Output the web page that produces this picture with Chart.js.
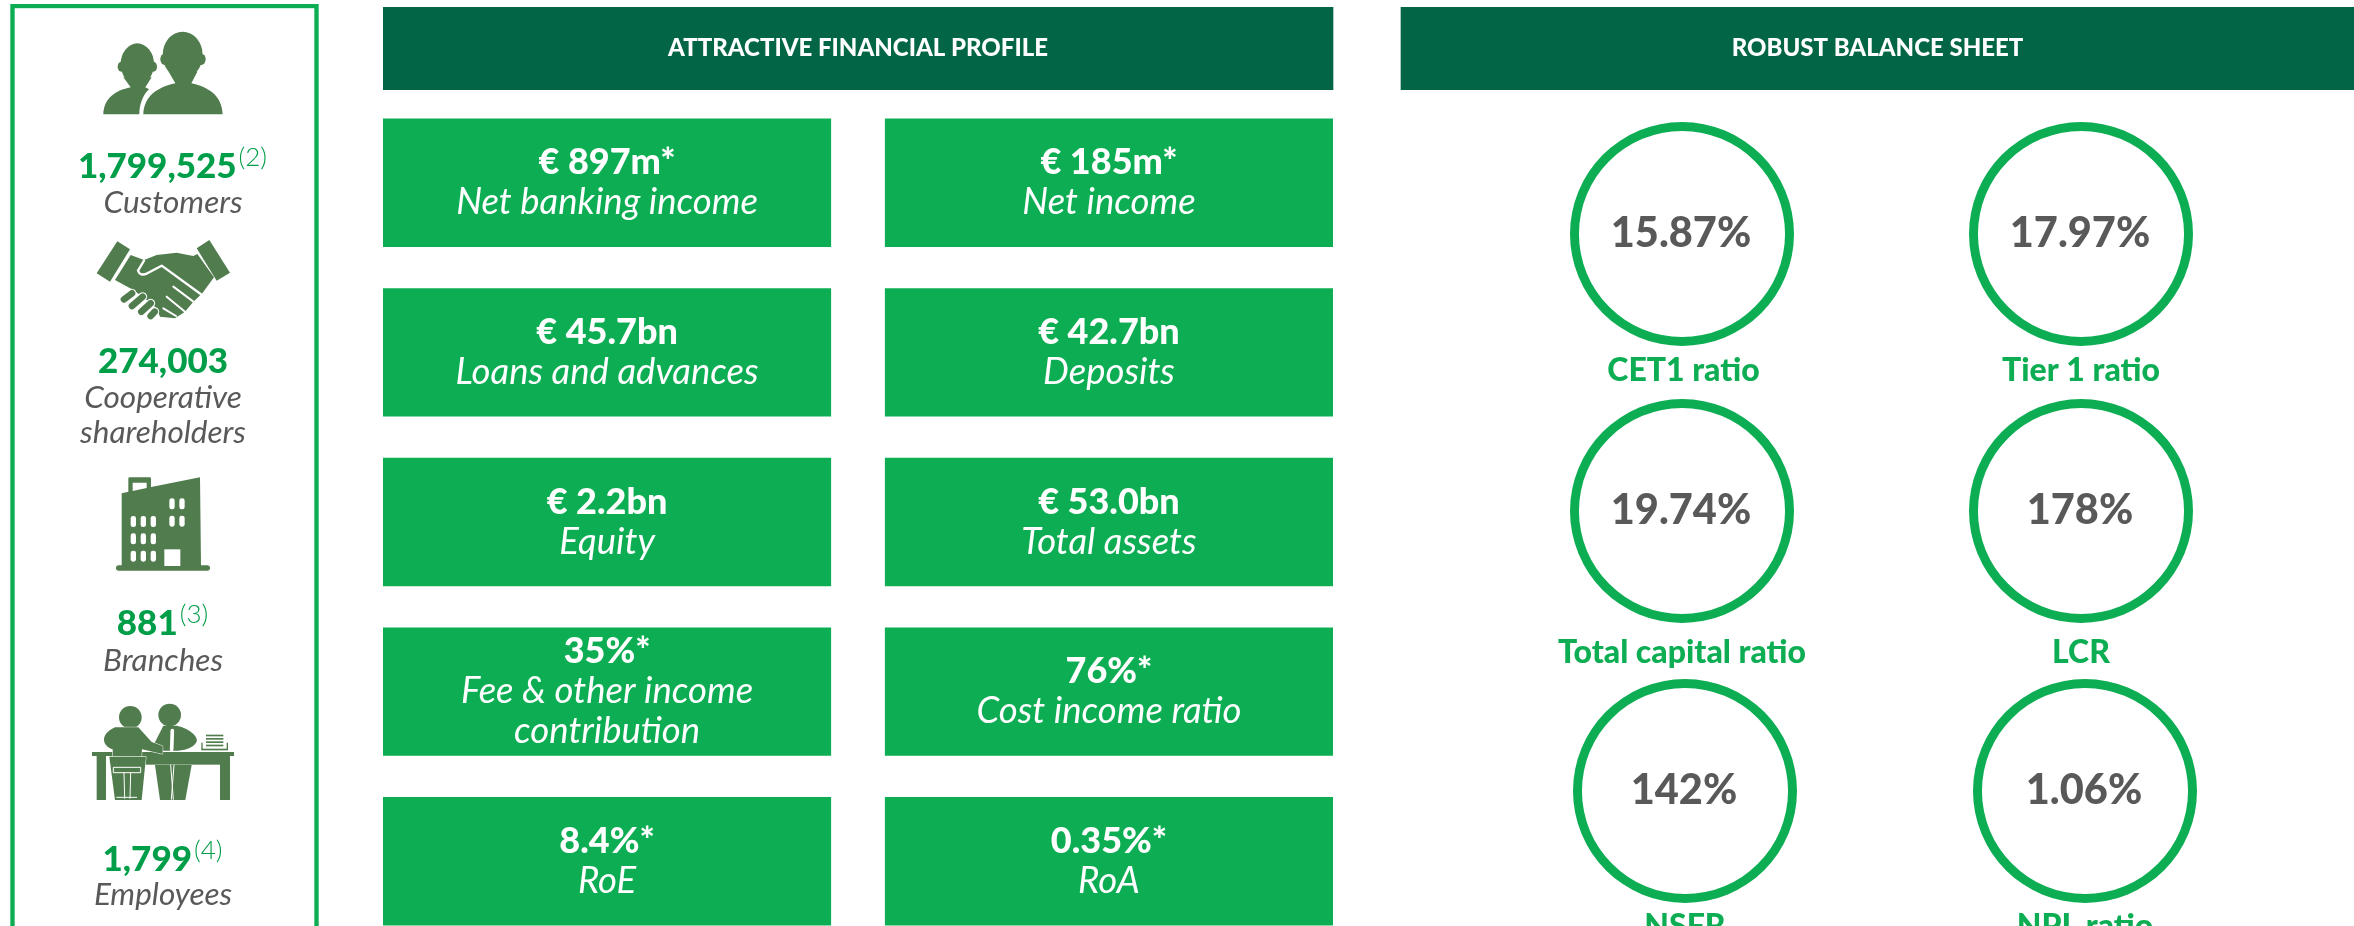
<!DOCTYPE html>
<html><head><meta charset="utf-8">
<script src="https://cdn.jsdelivr.net/npm/chart.js@4"></script>
<style>
html,body{margin:0;padding:0;background:#fff;width:2354px;height:926px;overflow:hidden}
canvas{position:absolute}
</style></head><body>
<script>
// ---------- content ----------
const sectionTitles = ["ATTRACTIVE FINANCIAL PROFILE", "ROBUST BALANCE SHEET"];
const tileRows = ["Earnings", "Balances", "Capital", "Mix", "Returns"];
const tileValuesLeft = ["€ 897m*", "€ 45.7bn", "€ 2.2bn", "35%*", "8.4%*"];
const tileNamesLeft = ["Net banking income", "Loans and advances", "Equity", "Fee & other income\ncontribution", "RoE"];
const tileValuesRight = ["€ 185m*", "€ 42.7bn", "€ 53.0bn", "76%*", "0.35%*"];
const tileNamesRight = ["Net income", "Deposits", "Total assets", "Cost income ratio", "RoA"];
const ratioValues = [15.87, 17.97, 19.74, 178, 142, 1.06];
const ratioTexts = ["15.87%", "17.97%", "19.74%", "178%", "142%", "1.06%"];
const ratioNames = ["CET1 ratio", "Tier 1 ratio", "Total capital ratio", "LCR", "NSFR", "NPL ratio"];
const profileValues = ["1,799,525", "274,003", "881", "1,799"];
const profileNotes = ["(2)", "", "(3)", "(4)"];
const profileNames = ["Customers", "Cooperative\nshareholders", "Branches", "Employees"];

// ---------- styles and layout (page pixels) ----------
const FAM = 'Lato, "Noto Sans", sans-serif';
const TILE = '#0DAE53', HEAD = '#026545', ICON = '#517C4E', NUM = '#009E49', GREY = '#595959', RING = '#0DAE53';
const ringBoxes = [[1681.5,233.5,380],[2080.5,233.5,380],[1681.5,511,663],[2080.5,511,663],[1684.5,790.5,936],[2085,790.5,936]];
const profileBlocks = [
  {cx:172.5,val:178,lab:213},{cx:163,val:373,lab:408},{cx:162.5,val:635,lab:671},{cx:162.5,val:871,lab:905}
];
Chart.defaults.animation = false;
Chart.defaults.responsive = false;
Chart.defaults.plugins.legend.display = false;
Chart.defaults.plugins.tooltip.enabled = false;

function addCanvas(left, top, w, h) {
  const c = document.createElement('canvas');
  c.width = w; c.height = h;
  c.style.left = left + 'px'; c.style.top = top + 'px';
  c.style.width = w + 'px'; c.style.height = h + 'px';
  document.body.appendChild(c);
  return c;
}
function put(ctx, s, x, y, font, color, align) {
  ctx.font = font; ctx.fillStyle = color; ctx.textAlign = align || 'center'; ctx.textBaseline = 'alphabetic';
  ctx.fillText(s, x, y);
}
const hidden = {display:false};

// ---------- section header bars ----------
new Chart(addCanvas(383, 7, 1971, 83), {
  type:'bar',
  data:{labels:['sections'], datasets:sectionTitles.map((t,i)=>({
    label:t, data:[i===0?[0,950]:[1018,1971]], backgroundColor:HEAD, barPercentage:1, categoryPercentage:1, grouped:false
  }))},
  options:{indexAxis:'y', maintainAspectRatio:false,
    scales:{x:{...hidden,min:0,max:1971},y:hidden}},
  plugins:[{id:'heads',afterDatasetsDraw(ch){
    ch.data.datasets.forEach((d,i)=>{
      const el=ch.getDatasetMeta(i).data[0];
      put(ch.ctx,d.label,(el.base+el.x)/2,el.y+7.5,'900 24px '+FAM,'#fff');
    });
  }}]
});

// ---------- KPI tiles ----------
const tileDatasets = [
  {label:'left', data:tileRows.map(()=>[0,1]), values:tileValuesLeft, names:tileNamesLeft},
  {label:'right', data:tileRows.map(()=>[1.12,2.12]), values:tileValuesRight, names:tileNamesRight}
].map(d=>({...d, backgroundColor:TILE, barPercentage:1, categoryPercentage:0.757, grouped:false}));
new Chart(addCanvas(382.5, 97.7, 950.5, 848), {
  type:'bar',
  data:{labels:tileRows, datasets:tileDatasets},
  options:{indexAxis:'y', maintainAspectRatio:false,
    scales:{x:{...hidden,min:0,max:2.12},y:hidden}},
  plugins:[{id:'tileText',afterDatasetsDraw(ch){
    ch.data.datasets.forEach((d,i)=>{
      ch.getDatasetMeta(i).data.forEach((el,r)=>{
        const cx=(el.base+el.x)/2, lines=d.names[r].split('\n');
        let y=el.y-8.5-20*(lines.length-1);
        put(ch.ctx,d.values[r],cx,y,'900 36px '+FAM,'#fff');
        lines.forEach(l=>{y+=40; put(ch.ctx,l,cx,y,'italic 400 36.5px '+FAM,'#fff');});
      });
    });
  }}]
});

// ---------- ratio rings ----------
ratioValues.forEach((v,i)=>{
  const [cx,cy,base]=ringBoxes[i];
  const W=340,H=320,D=224,left=cx-W/2,top=cy-D/2;
  new Chart(addCanvas(left,top,W,H),{
    type:'doughnut',
    data:{labels:[ratioNames[i]],datasets:[{data:[v],backgroundColor:RING,borderWidth:0}]},
    options:{maintainAspectRatio:false,cutout:'92%',
      layout:{padding:{left:(W-D)/2,right:(W-D)/2,top:0,bottom:H-D}}},
    plugins:[{id:'ringText',afterDatasetsDraw(ch){
      const el=ch.getDatasetMeta(0).data[0];
      put(ch.ctx,ratioTexts[i],el.x-1,el.y+13,'900 41.5px '+FAM,GREY);
      put(ch.ctx,ratioNames[i],el.x+(i===0?1.5:0),base-top,'900 32px '+FAM,RING);
    }}]
  });
});

// ---------- pictograms, drawn in a 3x zoomed local space ----------
function dot(c,x,y,rx,ry){c.beginPath();c.ellipse(x,y,rx,ry||rx,0,0,Math.PI*2);c.fill();}
function poly(c,pts){c.beginPath();pts.forEach((p,i)=>i?c.lineTo(p[0],p[1]):c.moveTo(p[0],p[1]));c.closePath();c.fill();}
function rr(c,x,y,w,h,r){c.beginPath();c.roundRect(x,y,w,h,r);c.fill();}
function seg(c,x1,y1,x2,y2,w,col){c.strokeStyle=col;c.lineWidth=w;c.lineCap='round';c.beginPath();c.moveTo(x1,y1);c.lineTo(x2,y2);c.stroke();}
const pictograms=[
 function people(c){
  c.fillStyle=ICON;
  dot(c,412,192,50,62);dot(c,364,200,11,15);dot(c,460,200,11,15);
  c.beginPath();c.moveTo(310,343);c.bezierCurveTo(312,295,345,272,392,262);c.lineTo(370,232);c.lineTo(455,232);c.lineTo(436,262);c.lineTo(447,268);
  c.bezierCurveTo(428,285,418,315,418,343);c.closePath();c.fill();
  dot(c,548,165,60,70);dot(c,494,178,13,17);dot(c,604,178,13,17);
  c.beginPath();c.moveTo(430,343);c.bezierCurveTo(432,290,470,262,526,250);c.lineTo(506,215);c.lineTo(592,215);c.lineTo(574,250);
  c.bezierCurveTo(630,262,666,290,668,343);c.closePath();c.fill();
 },
 function handshake(c){
  c.fillStyle=ICON;
  poly(c,[[352,724],[390,748],[330,845],[290,820]]);
  poly(c,[[628,720],[690,818],[650,842],[590,745]]);
  poly(c,[[392,765],[432,780],[470,765],[530,758],[580,768],[592,762],[642,832],[607,880],[580,905],[555,935],[525,955],[480,950],[470,925],[440,900],[400,870],[345,840]]);
  c.lineJoin='round';
  c.strokeStyle='#fff';c.lineWidth=7;c.lineCap='round';
  c.beginPath();c.moveTo(432,782);c.lineTo(414,812);c.quadraticCurveTo(420,830,442,820);c.lineTo(485,797);c.lineTo(606,885);c.stroke();
  seg(c,520,860,580,905,6,'#fff');seg(c,500,890,555,935,6,'#fff');seg(c,490,925,528,948,6,'#fff');
  [[372,898,396,880],[396,918,428,890],[424,935,452,910],[452,948,464,935]].forEach(f=>{
    seg(c,f[0],f[1],f[2],f[3],27,'#fff');seg(c,f[0],f[1],f[2],f[3],20,ICON);
  });
 },
 function building(c){
  c.fillStyle=ICON;
  rr(c,385,52,68,50,4);
  poly(c,[[365,100],[450,82],[600,52],[603,320],[365,320]]);
  rr(c,348,316,282,16,8);
  c.fillStyle='#fff';
  poly(c,[[398,68],[440,68],[440,84],[398,93]]);
  [168,220,272].forEach(y=>[392,422,452].forEach(x=>rr(c,x,y,16,33,7)));
  [115,167].forEach(y=>[508,538].forEach(x=>rr(c,x,y,16,33,7)));
  c.fillRect(493,268,48,50);
 },
 function meeting(c){
  c.fillStyle=ICON;
  dot(c,391,772,34);dot(c,509,765,34);
  c.beginPath();c.moveTo(490,797);c.lineTo(530,797);c.bezierCurveTo(570,805,595,830,590,845);c.bezierCurveTo(580,865,550,872,525,872);c.lineTo(452,872);c.closePath();c.fill();
  poly(c,[[465,915],[575,915],[556,1020],[480,1020]]);
  c.fillRect(276,876,426,12);c.fillRect(430,888,260,26);c.fillRect(290,888,28,132);c.fillRect(660,888,30,132);
  c.strokeStyle='#fff';c.lineWidth=3;
  c.beginPath();c.moveTo(345,802);c.lineTo(415,802);c.lineTo(455,846);c.lineTo(488,858);c.lineTo(488,882);c.lineTo(426,868);c.lineTo(422,922);c.lineTo(340,922);c.lineTo(338,868);c.bezierCurveTo(310,860,295,825,345,802);c.closePath();c.stroke();c.fill();
  c.beginPath();c.moveTo(328,890);c.lineTo(438,890);c.lineTo(425,1020);c.lineTo(345,1020);c.closePath();c.stroke();c.fill();
  c.beginPath();c.moveTo(340,922);c.lineTo(422,922);c.lineTo(422,938);c.lineTo(340,938);c.closePath();c.fill();c.stroke();
  seg(c,372,938,374,1015,3,'#fff');seg(c,392,938,390,1015,3,'#fff');
  seg(c,350,1012,410,1012,3,'#fff');
  seg(c,517,812,515,868,11,'#fff');
  seg(c,512,915,520,1018,3,'#fff');seg(c,522,915,514,1018,3,'#fff');
  c.fillStyle=ICON;
  [824,834,844,854].forEach(y=>c.fillRect(618,y,52,5));
  c.fillRect(604,848,4,22);c.fillRect(680,848,4,22);c.fillRect(604,866,80,5);
 }
];
const pictoBoxes=[[0,0],[0,0],[0,460],[0,460]];

// ---------- left profile panel ----------
new Chart(addCanvas(0,0,340,1000),{
  type:'bar',
  data:{labels:['panel'],datasets:[{data:[[10.5,318.5]],backgroundColor:'#fff',borderColor:RING,borderWidth:4.5,borderSkipped:false,barPercentage:1,categoryPercentage:1}]},
  options:{indexAxis:'y',maintainAspectRatio:false,layout:{padding:{top:4}},
    scales:{x:{...hidden,min:0,max:340},y:hidden}},
  plugins:[{id:'panel',afterDatasetsDraw(ch){
    const c=ch.ctx;
    pictograms.forEach((fn,i)=>{
      c.save();c.translate(pictoBoxes[i][0],pictoBoxes[i][1]);c.scale(1/3,1/3);fn(c);c.restore();
    });
    profileValues.forEach((v,i)=>{
      const b=profileBlocks[i], vf='900 35px '+FAM, nf='300 26px '+FAM, gap=2;
      c.font=vf;const vw=c.measureText(v).width;
      c.font=nf;const nw=profileNotes[i]?c.measureText(profileNotes[i]).width+gap:0;
      const x0=b.cx-(vw+nw)/2;
      put(c,v,x0,b.val,vf,NUM,'left');
      if(profileNotes[i])put(c,profileNotes[i],x0+vw+gap,b.val-12,nf,NUM,'left');
      profileNames[i].split('\n').forEach((l,k)=>put(c,l,i===0?173:163,b.lab+k*35,'italic 400 31.5px '+FAM,GREY));
    });
  }}]
});
</script>
</body></html>
